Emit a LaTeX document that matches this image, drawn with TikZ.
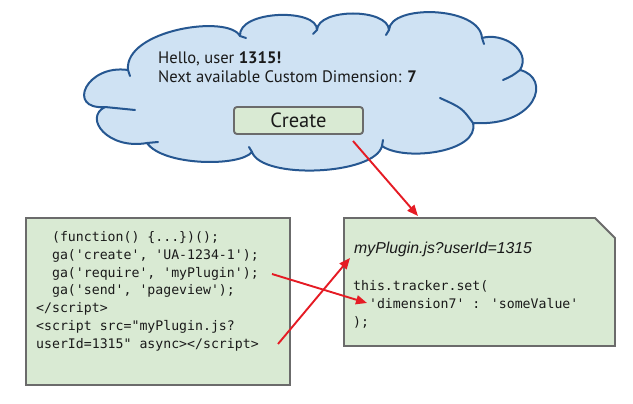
\documentclass[tikz,border=0pt]{standalone}
\usepackage{fontspec}
\setmainfont{PT Sans}
\newfontfamily\codefont{DejaVu Sans Mono}
\newfontfamily\urlfont{Liberation Sans}
\usetikzlibrary{arrows.meta}
\definecolor{cloudfill}{HTML}{CFE2F3}
\definecolor{cloudline}{RGB}{38,87,145}
\definecolor{greenfill}{HTML}{D9EAD3}
\definecolor{boxline}{HTML}{6B6B6B}
\definecolor{arrowred}{RGB}{229,27,36}
\definecolor{txt}{HTML}{1A1A1A}
\begin{document}
\begin{tikzpicture}[x=1pt,y=-1pt,
  cloud/.style={fill=cloudfill,draw=cloudline,line width=2pt,line join=round},
  tick/.style={draw=cloudline,line width=2pt,line cap=round},
  greenbox/.style={fill=greenfill,draw=boxline,line width=1.9pt},
  btn/.style={greenbox,rounded corners=3pt,minimum width=129pt,minimum height=27pt,inner sep=0pt,
    font=\fontsize{20.5}{22}\selectfont,text=txt},
  cloudtext/.style={anchor=base west,inner sep=0pt,font=\fontsize{16.6}{18}\selectfont,text=txt},
  code/.style={anchor=base west,inner sep=0pt,font=\codefont\fontsize{13.2}{17}\selectfont,text=txt},
  urltext/.style={anchor=base west,inner sep=0pt,font=\urlfont\itshape\fontsize{15.8}{18}\selectfont,text=txt},
  redarrow/.style={draw=arrowred,line width=1.9pt,-{Triangle[length=11pt,width=9pt]}}]
\useasboundingbox (0,0) rectangle (633,404);
% cloud
\draw[cloud] (128,70)
 .. controls (124,30) and (228,14) .. (240,36)
 .. controls (238,10) and (318,8) .. (317,30)
 .. controls (318,8) and (388,8) .. (389,30)
 .. controls (390,4) and (480,6) .. (482,38)
 .. controls (502,32) and (532,50) .. (520,70)
 .. controls (552,78) and (537,127) .. (473,123)
 .. controls (480,152) and (405,162) .. (382,146)
 .. controls (375,175) and (262,180) .. (252,152)
 .. controls (240,167) and (163,166) .. (147,143)
 .. controls (108,150) and (83,118) .. (105,107)
 .. controls (66,110) and (86,64) .. (128,70) -- cycle;
\draw[tick] (105,107) .. controls (120,108.5) .. (135,110);
\draw[tick] (147,143) .. controls (152,143) .. (158,142);
\draw[tick] (473,123) .. controls (462,108) .. (440,98);
\draw[tick] (520,70) .. controls (512,76) .. (503,80);
\draw[tick] (482,38) -- (484,44);
\draw[tick] (128,70) -- (130,76);
\draw[tick] (252,152) -- (249,147);
\draw[tick] (382,146) -- (383,140);
\draw[tick] (389,30) -- (386,35);
\draw[tick] (317,30) -- (313,34);
\draw[tick] (240,36) -- (246,38);
% cloud text
\node[cloudtext] (hello) at (158,64) {Hello, user \textbf{1315!}};
\node[cloudtext] (next) at (158,82.3) {Next available Custom Dimension: \textbf{7}};
\node[btn] (create) at (298.5,120.5) {Create};
% left code box
\node[greenbox,minimum width=264pt,minimum height=167pt,inner sep=0pt] (snippet) at (158,301.5) {};
\node[code] (l1) at (36,241.5) {\ \ (function() \{...\})();};
\node[code] (l2) at (36,259.3) {\ \ ga('create', 'UA-1234-1');};
\node[code] (l3) at (36,277.1) {\ \ ga('require', 'myPlugin');};
\node[code] (l4) at (36,294.9) {\ \ ga('send', 'pageview');};
\node[code] (l5) at (36,312.7) {</script>};
\node[code] (l6) at (36,330.5) {<script src="myPlugin.js?};
\node[code] (l7) at (36,348.3) {userId=1315" async></script>};
% right plugin box
\draw[greenbox] (344,218) -- (595,218) -- (615,238) -- (615,346) -- (344,346) -- cycle;
\node[urltext] (url) at (354,253) {myPlugin.js?userId=1315};
\node[code] (r1) at (353,290) {this.tracker.set(};
\node[code] (r2) at (353,308.3) {\ \ 'dimension7' : 'someValue'};
\node[code] (r3) at (353,326.6) {);};
% arrow end points
\coordinate (btnTail) at (353,141);
\coordinate (pluginTop) at (418,216);
\coordinate (reqEnd) at (272,274);
\coordinate (dimStart) at (367,303);
\coordinate (scriptEnd) at (278,344);
\coordinate (urlStart) at (350,258);
\draw[redarrow] (btnTail) -- (pluginTop);
\draw[redarrow] (reqEnd) -- (dimStart);
\draw[redarrow] (scriptEnd) -- (urlStart);
\end{tikzpicture}
\end{document}
